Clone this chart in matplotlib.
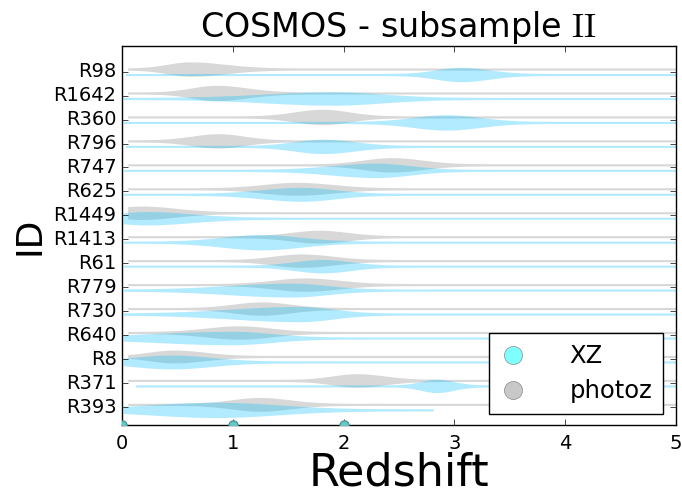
import numpy as np
import matplotlib
matplotlib.use("Agg")
import matplotlib.pyplot as plt
from matplotlib.lines import Line2D

plt.style.use("classic")
plt.rcParams["mathtext.fontset"] = "cm"
plt.rcParams["font.family"] = ["DejaVu Sans"]

# Source IDs, top to bottom
ids = ["R98", "R1642", "R360", "R796", "R747", "R625", "R1449", "R1413",
       "R61", "R779", "R730", "R640", "R8", "R371", "R393"]

# photo-z redshift PDFs: mode, left/right spread, peak half-width, support
photoz_mode = [0.61, 0.85, 1.81, 0.87, 2.43, 1.58, 0.18, 1.78,
               1.62, 1.65, 1.26, 1.06, 0.47, 2.12, 1.24]
photoz_sig_lo = [0.20, 0.22, 0.25, 0.24, 0.25, 0.30, 0.30, 0.25,
                 0.25, 0.28, 0.25, 0.30, 0.22, 0.22, 0.25]
photoz_sig_hi = [0.32, 0.28, 0.24, 0.23, 0.28, 0.32, 0.30, 0.25,
                 0.28, 0.30, 0.25, 0.28, 0.27, 0.25, 0.27]
photoz_width = [0.30, 0.32, 0.32, 0.30, 0.30, 0.27, 0.28, 0.27,
                0.28, 0.28, 0.28, 0.28, 0.27, 0.28, 0.29]
photoz_lo = [0.05] * 15
photoz_hi = [5.0] * 15

# XZ redshift PDFs
xz_mode = [3.06, 1.90, 2.93, 1.81, 2.30, 1.62, 0.22, 1.26,
           1.81, 1.52, 1.60, 1.00, 0.45, 2.84, 0.85]
xz_sig_lo = [0.22, 0.60, 0.30, 0.25, 0.40, 0.35, 0.30, 0.35,
             0.25, 0.55, 0.60, 0.70, 0.35, 0.14, 0.60]
xz_sig_hi = [0.25, 0.45, 0.30, 0.28, 0.30, 0.30, 0.40, 0.35,
             0.25, 0.33, 0.30, 0.35, 0.35, 0.15, 0.55]
xz_width = [0.30, 0.28, 0.32, 0.30, 0.30, 0.29, 0.28, 0.32,
            0.28, 0.29, 0.32, 0.28, 0.29, 0.28, 0.32]
xz_lo = [0.03, 0.01, 0.01, 0.03, 0.01, 0.01, 0.01, 0.01,
         0.01, 0.01, 0.01, 0.01, 0.01, 0.12, 0.01]
xz_hi = [5.0] * 14 + [2.81]

# markers sitting on the lower axis edge
edge_marks_x = [0, 1, 2]

series = [
    ("photoz", photoz_mode, photoz_sig_lo, photoz_sig_hi, photoz_width,
     photoz_lo, photoz_hi, "gray", -0.11),
    ("XZ", xz_mode, xz_sig_lo, xz_sig_hi, xz_width,
     xz_lo, xz_hi, "deepskyblue", 0.12),
]

TAIL = 0.045  # half-thickness of the violin tails


def split_normal(x, mu, s_lo, s_hi):
    s = np.where(x < mu, s_lo, s_hi)
    return np.exp(-0.5 * ((x - mu) / s) ** 2)


fig = plt.figure(figsize=(6.82, 4.95), dpi=100, facecolor="white")
ax = fig.add_axes([0.179, 0.141, 0.812, 0.766])
ax.set_facecolor("white")

for name, mode, slo, shi, wid, lo, hi, color, offset in series:
    for i in range(len(ids)):
        x = np.linspace(lo[i], hi[i], 800)
        d = split_normal(x, mode[i], slo[i], shi[i])
        hw = TAIL + (wid[i] - TAIL) * d
        yc = i + offset
        ax.fill_between(x, yc - hw, yc + hw, color=color, alpha=0.3,
                        linewidth=0)

ax.scatter(edge_marks_x, [14.76] * len(edge_marks_x), s=45,
           facecolor="#66c6c6", edgecolor="#3f8c8c", linewidth=0.8,
           zorder=5, clip_on=True)

ax.set_xlim(0, 5)
ax.set_ylim(14.76, -1.07)
ax.set_yticks(range(len(ids)))
ax.set_yticklabels(ids, fontsize=14)
ax.set_xticks(range(6))
ax.tick_params(axis="x", labelsize=14, pad=6)
ax.set_xlabel("Redshift", fontsize=32, labelpad=-0.5)
ax.set_ylabel("ID", fontsize=26)
ax.set_title(r"COSMOS - subsample $\mathrm{II}$", fontsize=24, y=1.005)

handles = [
    Line2D([], [], marker="o", ls="none", markersize=13,
           markerfacecolor=(0.5, 1.0, 1.0), markeredgecolor="#888888"),
    Line2D([], [], marker="o", ls="none", markersize=13,
           markerfacecolor="#c8c8c8", markeredgecolor="#888888"),
]
leg = ax.legend(handles, ["XZ", "photoz"], loc="lower right", numpoints=1,
                fontsize=17.5, bbox_to_anchor=(0.977, 0.029), borderaxespad=0,
                handlelength=1.07, handletextpad=1.77, borderpad=0.45,
                labelspacing=0.45, fancybox=False)
leg.get_frame().set_edgecolor("black")

fig.savefig("out.png", dpi=100, facecolor="white")
